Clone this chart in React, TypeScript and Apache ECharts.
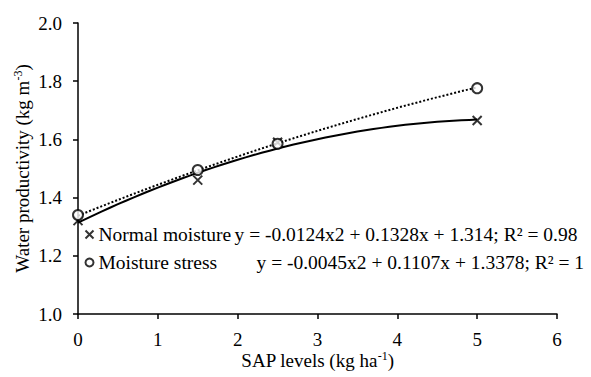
import React, { useEffect, useRef } from "react";
import * as echarts from "echarts";

const sapLevels = [0, 1.5, 2.5, 5];
const normalMoisture = [1.321, 1.46, 1.59, 1.665];
const moistureStress = [1.34, 1.495, 1.585, 1.776];
const seriesNames = ["Normal moisture", "Moisture stress"];
const normalCoef = [-0.0124, 0.1328, 1.314];
const stressCoef = [-0.0045, 0.1107, 1.3378];
const equations = [
  "y = -0.0124x2 + 0.1328x + 1.314; R² = 0.98",
  "y = -0.0045x2 + 0.1107x + 1.3378; R² = 1",
];

const FONT = "'Liberation Serif', 'Times New Roman', serif";
const FS = 19;

function trend(coef: number[]) {
  const pts: number[][] = [];
  for (let i = 0; i <= 50; i++) {
    const x = i / 10;
    pts.push([x, coef[0] * x * x + coef[1] * x + coef[2]]);
  }
  return pts;
}

export default function App() {
  const ref = useRef<HTMLDivElement>(null);
  useEffect(() => {
    if (!ref.current) return;
    const chart = echarts.init(ref.current, null, { renderer: "svg" });
    const crossPath = "path://M0,0L10,10M10,0L0,10";
    const supRich = { s: { fontSize: 12, fontFamily: FONT, color: "#000", verticalAlign: "top", padding: [0, 0, 8, 0] } };
    chart.setOption({
      animation: false,
      backgroundColor: "#fff",
      textStyle: { fontFamily: FONT, color: "#000" },
      grid: { left: 78, right: 34, top: 23, bottom: 63 },
      xAxis: {
        type: "value",
        min: 0,
        max: 6,
        interval: 1,
        name: "SAP levels (kg ha{s|-1})",
        nameLocation: "middle",
        nameGap: 36,
        nameMoveOverlap: false,
        nameTextStyle: { fontFamily: FONT, fontSize: FS, color: "#000", rich: supRich },
        axisLine: { lineStyle: { color: "#000", width: 1.5 } },
        axisTick: { show: true, inside: false, length: 5, lineStyle: { color: "#000", width: 1.5 } },
        axisLabel: { fontFamily: FONT, fontSize: FS, color: "#000", margin: 16 },
        splitLine: { show: false },
      },
      yAxis: {
        type: "value",
        min: 1,
        max: 2,
        interval: 0.2,
        name: "Water productivity (kg m{s|-3})",
        nameLocation: "middle",
        nameGap: 46,
        nameMoveOverlap: false,
        nameRotate: 90,
        nameTextStyle: { fontFamily: FONT, fontSize: FS, color: "#000", rich: supRich },
        axisLine: { show: true, lineStyle: { color: "#000", width: 1.5 } },
        axisTick: { show: true, inside: false, length: 5, lineStyle: { color: "#000", width: 1.5 } },
        axisLabel: {
          fontFamily: FONT,
          fontSize: FS,
          color: "#000",
          margin: 16,
          formatter: (v: number) => v.toFixed(1),
        },
        splitLine: { show: false },
      },
      legend: {
        orient: "vertical",
        left: 78,
        top: 219,
        itemGap: 7,
        itemWidth: 8,
        itemHeight: 8,
        data: [
          { name: seriesNames[0], icon: crossPath },
          { name: seriesNames[1], icon: "circle" },
        ],
        formatter: (name: string) =>
          name === seriesNames[0]
            ? `{n1|${name}}{e|${equations[0]}}`
            : `{n2|${name}}{e|${equations[1]}}`,
        textStyle: {
          fontFamily: FONT,
          fontSize: 19.5,
          color: "#000",
          lineHeight: 21,
          rich: {
            n1: { width: 136, fontFamily: FONT, fontSize: 19.5, color: "#000" },
            n2: { width: 158, fontFamily: FONT, fontSize: 19.5, color: "#000" },
            e: { fontFamily: FONT, fontSize: 19.5, color: "#000" },
          },
        },
      },
      series: [
        {
          name: "trend-normal",
          type: "line",
          data: trend(normalCoef),
          showSymbol: false,
          symbol: "none",
          lineStyle: { color: "#000", width: 2, type: "solid" },
          z: 2,
          silent: true,
        },
        {
          name: "trend-stress",
          type: "line",
          data: trend(stressCoef),
          showSymbol: false,
          symbol: "none",
          lineStyle: { color: "#000", width: 2, type: [2, 2] },
          z: 2,
          silent: true,
        },
        {
          name: seriesNames[0],
          type: "scatter",
          data: sapLevels.map((x, i) => [x, normalMoisture[i]]),
          symbol: crossPath,
          symbolSize: 9,
          itemStyle: { color: "none", borderColor: "#000", borderWidth: 2 },
          z: 5,
        },
        {
          name: seriesNames[1],
          type: "scatter",
          data: sapLevels.map((x, i) => [x, moistureStress[i]]),
          symbol: "circle",
          symbolSize: 10,
          itemStyle: { color: "#fff", borderColor: "#000", borderWidth: 2 },
          z: 5,
        },
      ],
    });
    return () => chart.dispose();
  }, []);
  return (
    <div
      ref={ref}
      style={{ position: "absolute", left: 0, top: 0, width: 591, height: 377 }}
    />
  );
}
